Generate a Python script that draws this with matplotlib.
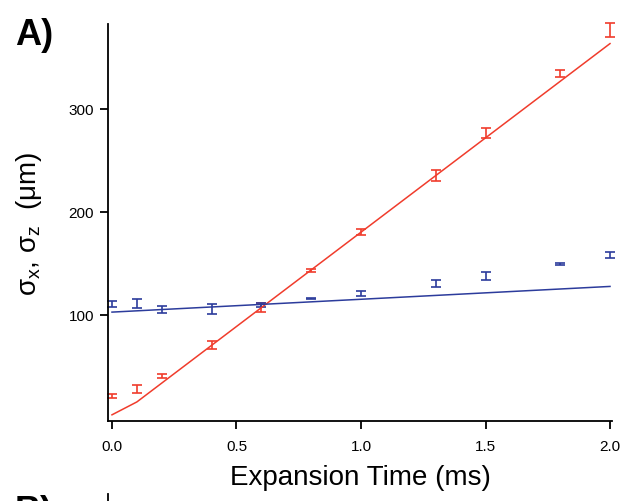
import numpy as np
import matplotlib.pyplot as plt

plt.rcParams['font.family'] = ['Liberation Sans', 'DejaVu Sans']
plt.rcParams['mathtext.fontset'] = 'custom'
plt.rcParams['mathtext.rm'] = 'Liberation Sans'
plt.rcParams['mathtext.it'] = 'Liberation Sans'
plt.rcParams['mathtext.default'] = 'regular'

# Expansion time (ms)
t = [0.0, 0.1, 0.2, 0.4, 0.6, 0.8, 1.0, 1.3, 1.5, 1.8, 2.0]

# red series (um) with errors
red_y = [21, 28, 41, 71, 107, 143, 180, 235, 276, 334, 376]
red_err = [2, 4, 2, 4, 4, 1.5, 3, 5, 5, 3, 7]
# blue series (um) with errors
blue_y = [110.7, 111, 105.5, 105.5, 109.4, 115.5, 120.4, 130.7, 137.7, 149.2, 158]
blue_err = [3, 4.5, 3.5, 4.5, 2.3, 0.6, 2.3, 3.3, 3.8, 0.6, 3]

# fit curves
red_fit_t = [0.0, 0.1, 2.0]
red_fit_y = [3, 15.5, 363]
blue_fit_t = [0.0, 2.0]
blue_fit_y = [102.6, 127.5]

red = '#f03c2c'
blue = '#2c3c9c'

fig = plt.figure(figsize=(6.31, 5.02), dpi=100)
ax = fig.add_axes([108 / 631, 1 - 422 / 502, 504 / 631, 397 / 502])

for y, e, c in [(red_y, red_err, red), (blue_y, blue_err, blue)]:
    eb = ax.errorbar(t, y, yerr=e, fmt='none', ecolor=c, elinewidth=1.2,
                     capsize=3.6, capthick=1.2)
    for art in eb.lines[1] + eb.lines[2]:
        art.set_clip_on(False)
ax.plot(red_fit_t, red_fit_y, color=red, lw=1.1)
ax.plot(blue_fit_t, blue_fit_y, color=blue, lw=1.1)

ax.set_xlim(-0.016, 2.008)
ax.set_ylim(-3, 382)
ax.set_xticks([0, 0.5, 1.0, 1.5, 2.0])
ax.set_xticklabels(['0.0', '0.5', '1.0', '1.5', '2.0'])
ax.set_yticks([100, 200, 300])

for s in ['top', 'right']:
    ax.spines[s].set_visible(False)
for s in ['left', 'bottom']:
    ax.spines[s].set_linewidth(1.3)
ax.tick_params(direction='out', length=6, width=1.3, labelsize=11)
ax.tick_params(axis='x', pad=7)
ax.tick_params(axis='y', pad=4)

ax.set_xlabel('Expansion Time (ms)', fontsize=20, labelpad=8)
ax.set_ylabel(r'$\sigma_x$, $\sigma_z$  (μm)', fontsize=20, labelpad=18)

fig.text(15 / 631, 1 - 45 / 502, 'A)', fontsize=26, fontweight='bold')
fig.text(15 / 631, 1 - 522 / 502, 'B)', fontsize=26, fontweight='bold')

# top of next panel, cut off by the figure edge
ax2 = fig.add_axes([108 / 631, -0.5, 504 / 631, 0.5 + 7 / 502])
ax2.set_xticks([])
ax2.set_yticks([])
for s in ['top', 'right', 'bottom']:
    ax2.spines[s].set_visible(False)
ax2.spines['left'].set_linewidth(1.3)
ax2.patch.set_alpha(0)

fig.savefig('out.png', dpi=100)
